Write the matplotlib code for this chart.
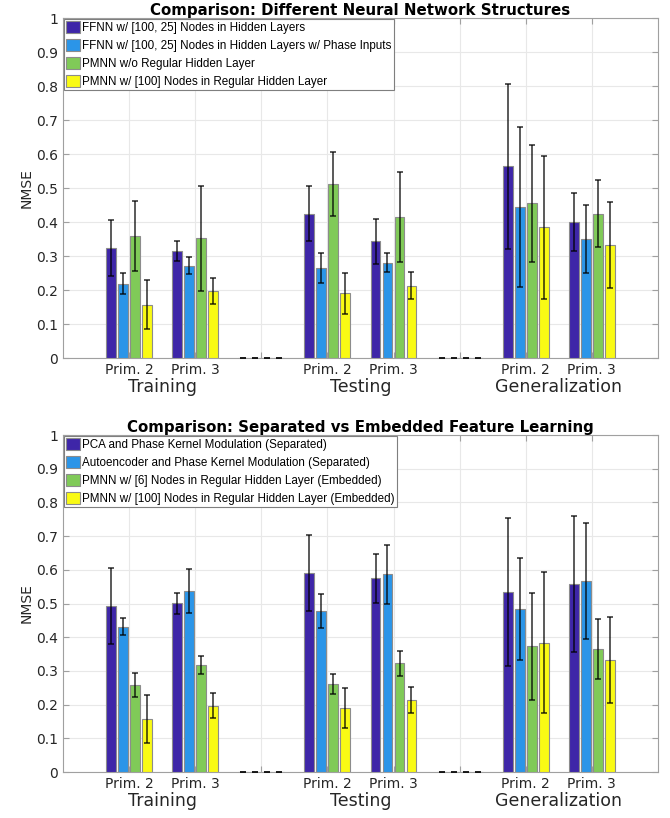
import numpy as np
import matplotlib
matplotlib.use("Agg")
import matplotlib.pyplot as plt

# x slots 1..8, slots 3 and 6 are empty separators
slots = [1, 2, 3, 4, 5, 6, 7, 8]
tick_labels = ["Prim. 2", "Prim. 3", "", "Prim. 2", "Prim. 3", "", "Prim. 2", "Prim. 3"]
group_names = ["Training", "Testing", "Generalization"]
group_pos = [1.5, 4.5, 7.5]

colors = ["#3e26a8", "#2b95e8", "#80ca58", "#f9fa14"]

# --- top: different network structures ---
top_title = "Comparison: Different Neural Network Structures"
top_labels = ["FFNN w/ [100, 25] Nodes in Hidden Layers",
              "FFNN w/ [100, 25] Nodes in Hidden Layers w/ Phase Inputs",
              "PMNN w/o Regular Hidden Layer",
              "PMNN w/ [100] Nodes in Regular Hidden Layer"]
top_means = [
    [0.324, 0.314, 0, 0.425, 0.343, 0, 0.564, 0.400],
    [0.219, 0.271, 0, 0.265, 0.281, 0, 0.445, 0.350],
    [0.358, 0.352, 0, 0.513, 0.414, 0, 0.455, 0.425],
    [0.157, 0.197, 0, 0.190, 0.213, 0, 0.384, 0.333],
]
top_err = [
    [0.083, 0.030, 0, 0.081, 0.065, 0, 0.243, 0.085],
    [0.030, 0.025, 0, 0.044, 0.028, 0, 0.236, 0.099],
    [0.103, 0.155, 0, 0.094, 0.132, 0, 0.172, 0.099],
    [0.072, 0.038, 0, 0.060, 0.039, 0, 0.209, 0.127],
]

# --- bottom: separated vs embedded ---
bot_title = "Comparison: Separated vs Embedded Feature Learning"
bot_labels = ["PCA and Phase Kernel Modulation (Separated)",
              "Autoencoder and Phase Kernel Modulation (Separated)",
              "PMNN w/ [6] Nodes in Regular Hidden Layer (Embedded)",
              "PMNN w/ [100] Nodes in Regular Hidden Layer (Embedded)"]
bot_means = [
    [0.493, 0.501, 0, 0.590, 0.575, 0, 0.534, 0.558],
    [0.431, 0.538, 0, 0.478, 0.587, 0, 0.483, 0.566],
    [0.258, 0.317, 0, 0.261, 0.323, 0, 0.373, 0.365],
    [0.157, 0.197, 0, 0.190, 0.213, 0, 0.384, 0.333],
]
bot_err = [
    [0.112, 0.031, 0, 0.112, 0.072, 0, 0.220, 0.203],
    [0.025, 0.065, 0, 0.051, 0.087, 0, 0.151, 0.172],
    [0.035, 0.026, 0, 0.030, 0.037, 0, 0.158, 0.090],
    [0.072, 0.038, 0, 0.060, 0.039, 0, 0.209, 0.127],
]

offsets = [-0.272, -0.091, 0.091, 0.272]
width = 0.15

# narrower face for the legend, as in the original
leg_prop = {"family": ["Liberation Sans", "DejaVu Sans"], "size": 8.4}


def draw(ax, title, labels, means, errs):
    x = np.array(slots, dtype=float)
    handles = []
    for i in range(4):
        h = ax.bar(x + offsets[i], means[i], width, color=colors[i],
                   edgecolor="#8c8c8c", linewidth=0.8, label=labels[i], zorder=3)
        handles.append(h)
        ax.errorbar(x + offsets[i], means[i], yerr=errs[i], fmt="none",
                    ecolor="black", alpha=0.65, elinewidth=1.4, capsize=2,
                    capthick=1.4, zorder=4)
    ax.set_xlim(0, 9)
    ax.set_ylim(0, 1)
    ax.set_xticks(slots)
    ax.set_xticklabels(tick_labels, fontsize=10, color="#262626")
    ax.set_yticks(np.arange(0, 1.01, 0.1))
    ax.set_yticklabels(["0", "0.1", "0.2", "0.3", "0.4", "0.5", "0.6",
                        "0.7", "0.8", "0.9", "1"], fontsize=10, color="#262626")
    ax.tick_params(direction="in", length=4, color="#a0a0a0", top=True, right=True)
    ax.grid(True, color="#e8e8e8", linewidth=0.8, zorder=0)
    ax.set_axisbelow(True)
    for s in ax.spines.values():
        s.set_color("#a0a0a0")
    ax.set_ylabel("NMSE", fontsize=10, color="#262626", labelpad=2)
    ax.set_title(title, fontsize=10.8, fontweight="bold", pad=2)
    for name, p in zip(group_names, group_pos):
        ax.text(p, -0.085, name, fontsize=12.5, color="#262626", ha="center",
                va="center", transform=ax.get_xaxis_transform())
    leg = ax.legend(handles=handles, loc="upper left", prop=leg_prop,
                    fancybox=False, framealpha=1, edgecolor="#7f7f7f",
                    borderpad=0.2, labelspacing=0.42, handlelength=1.25,
                    handleheight=1.25, handletextpad=0.15, borderaxespad=0.05)
    leg.get_frame().set_linewidth(0.8)


fig = plt.figure(figsize=(6.7, 8.18), dpi=100)
ax1 = fig.add_axes([0.094, 0.5623, 0.888, 0.4156])
ax2 = fig.add_axes([0.094, 0.0562, 0.888, 0.412])
draw(ax1, top_title, top_labels, top_means, top_err)
draw(ax2, bot_title, bot_labels, bot_means, bot_err)

fig.savefig("out.png", dpi=100)
